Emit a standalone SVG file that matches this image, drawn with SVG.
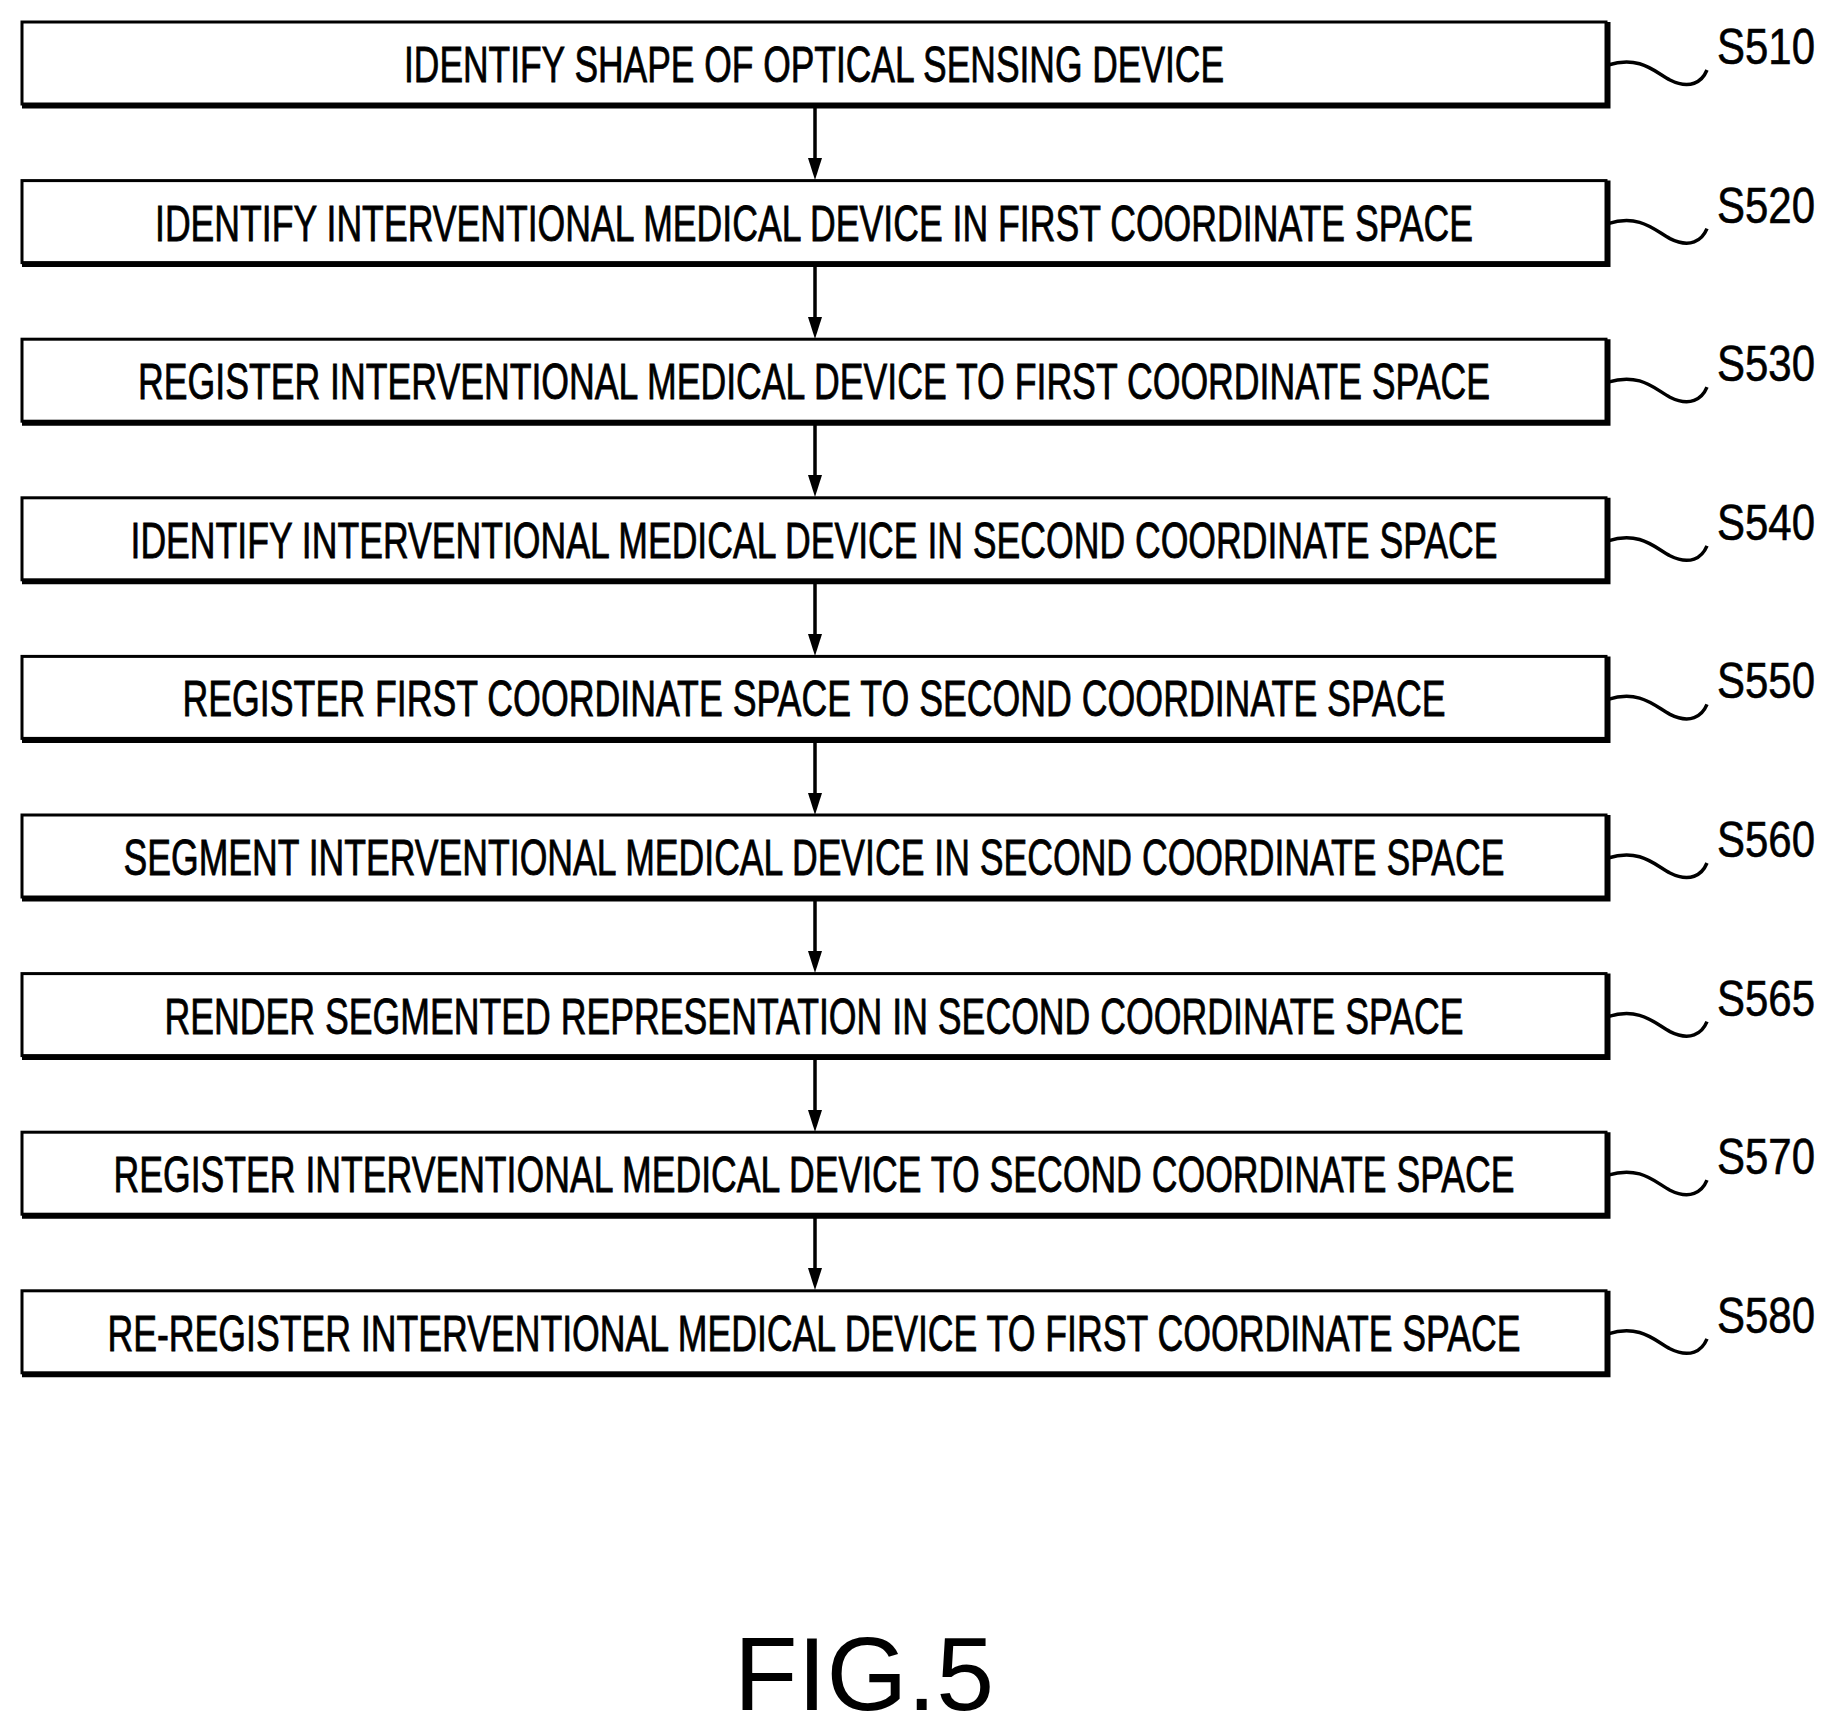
<svg xmlns="http://www.w3.org/2000/svg" width="1836" height="1730" viewBox="0 0 1836 1730">
<style>
.box{fill:#fff;stroke:#000;stroke-width:3}
.sh{stroke:#000;stroke-width:5;fill:none}
.t{font-family:"Liberation Sans",Arial,sans-serif;font-size:50px;text-anchor:middle;stroke:#000;stroke-width:0.8}
.l{font-family:"Liberation Sans",Arial,sans-serif;font-size:50px;stroke:#000;stroke-width:0.6}
.sq{fill:none;stroke:#000;stroke-width:3.5}
.c{stroke:#000;stroke-width:3.5}
</style>
<defs>
<path id="ah" d="M-7 -22 L7 -22 L0 0 Z"/>
</defs>
<g id="connectors">
<line class="c" x1="815" y1="108" x2="815" y2="165"/><use href="#ah" x="815" y="180"/>
<line class="c" x1="815" y1="266" x2="815" y2="324"/><use href="#ah" x="815" y="339"/>
<line class="c" x1="815" y1="425" x2="815" y2="482"/><use href="#ah" x="815" y="497"/>
<line class="c" x1="815" y1="584" x2="815" y2="641"/><use href="#ah" x="815" y="656"/>
<line class="c" x1="815" y1="742" x2="815" y2="799"/><use href="#ah" x="815" y="815"/>
<line class="c" x1="815" y1="901" x2="815" y2="958"/><use href="#ah" x="815" y="973"/>
<line class="c" x1="815" y1="1060" x2="815" y2="1117"/><use href="#ah" x="815" y="1132"/>
<line class="c" x1="815" y1="1218" x2="815" y2="1275"/><use href="#ah" x="815" y="1290"/>
</g>
<g id="n510" transform="translate(0,0)"><rect class="box" x="22" y="22" width="1584" height="82"/><path class="sh" d="M22 106 H1608 V22"/><text class="t" x="814" y="82" textLength="820" lengthAdjust="spacingAndGlyphs">IDENTIFY SHAPE OF OPTICAL SENSING DEVICE</text><path class="sq" d="M1608 65 C1640 55 1655 72 1670 80 C1690 90 1702 82 1707 70"/><text class="l" x="1717" y="64" textLength="98" lengthAdjust="spacingAndGlyphs">S510</text></g>
<g id="n520" transform="translate(0,158.6)"><rect class="box" x="22" y="22" width="1584" height="82"/><path class="sh" d="M22 106 H1608 V22"/><text class="t" x="814" y="82" textLength="1318" lengthAdjust="spacingAndGlyphs">IDENTIFY INTERVENTIONAL MEDICAL DEVICE IN FIRST COORDINATE SPACE</text><path class="sq" d="M1608 65 C1640 55 1655 72 1670 80 C1690 90 1702 82 1707 70"/><text class="l" x="1717" y="64" textLength="98" lengthAdjust="spacingAndGlyphs">S520</text></g>
<g id="n530" transform="translate(0,317.2)"><rect class="box" x="22" y="22" width="1584" height="82"/><path class="sh" d="M22 106 H1608 V22"/><text class="t" x="814" y="82" textLength="1352" lengthAdjust="spacingAndGlyphs">REGISTER INTERVENTIONAL MEDICAL DEVICE TO FIRST COORDINATE SPACE</text><path class="sq" d="M1608 65 C1640 55 1655 72 1670 80 C1690 90 1702 82 1707 70"/><text class="l" x="1717" y="64" textLength="98" lengthAdjust="spacingAndGlyphs">S530</text></g>
<g id="n540" transform="translate(0,475.8)"><rect class="box" x="22" y="22" width="1584" height="82"/><path class="sh" d="M22 106 H1608 V22"/><text class="t" x="814" y="82" textLength="1367" lengthAdjust="spacingAndGlyphs">IDENTIFY INTERVENTIONAL MEDICAL DEVICE IN SECOND COORDINATE SPACE</text><path class="sq" d="M1608 65 C1640 55 1655 72 1670 80 C1690 90 1702 82 1707 70"/><text class="l" x="1717" y="64" textLength="98" lengthAdjust="spacingAndGlyphs">S540</text></g>
<g id="n550" transform="translate(0,634.4)"><rect class="box" x="22" y="22" width="1584" height="82"/><path class="sh" d="M22 106 H1608 V22"/><text class="t" x="814" y="82" textLength="1263" lengthAdjust="spacingAndGlyphs">REGISTER FIRST COORDINATE SPACE TO SECOND COORDINATE SPACE</text><path class="sq" d="M1608 65 C1640 55 1655 72 1670 80 C1690 90 1702 82 1707 70"/><text class="l" x="1717" y="64" textLength="98" lengthAdjust="spacingAndGlyphs">S550</text></g>
<g id="n560" transform="translate(0,793)"><rect class="box" x="22" y="22" width="1584" height="82"/><path class="sh" d="M22 106 H1608 V22"/><text class="t" x="814" y="82" textLength="1381" lengthAdjust="spacingAndGlyphs">SEGMENT INTERVENTIONAL MEDICAL DEVICE IN SECOND COORDINATE SPACE</text><path class="sq" d="M1608 65 C1640 55 1655 72 1670 80 C1690 90 1702 82 1707 70"/><text class="l" x="1717" y="64" textLength="98" lengthAdjust="spacingAndGlyphs">S560</text></g>
<g id="n565" transform="translate(0,951.6)"><rect class="box" x="22" y="22" width="1584" height="82"/><path class="sh" d="M22 106 H1608 V22"/><text class="t" x="814" y="82" textLength="1299" lengthAdjust="spacingAndGlyphs">RENDER SEGMENTED REPRESENTATION IN SECOND COORDINATE SPACE</text><path class="sq" d="M1608 65 C1640 55 1655 72 1670 80 C1690 90 1702 82 1707 70"/><text class="l" x="1717" y="64" textLength="98" lengthAdjust="spacingAndGlyphs">S565</text></g>
<g id="n570" transform="translate(0,1110.2)"><rect class="box" x="22" y="22" width="1584" height="82"/><path class="sh" d="M22 106 H1608 V22"/><text class="t" x="814" y="82" textLength="1401" lengthAdjust="spacingAndGlyphs">REGISTER INTERVENTIONAL MEDICAL DEVICE TO SECOND COORDINATE SPACE</text><path class="sq" d="M1608 65 C1640 55 1655 72 1670 80 C1690 90 1702 82 1707 70"/><text class="l" x="1717" y="64" textLength="98" lengthAdjust="spacingAndGlyphs">S570</text></g>
<g id="n580" transform="translate(0,1268.8)"><rect class="box" x="22" y="22" width="1584" height="82"/><path class="sh" d="M22 106 H1608 V22"/><text class="t" x="814" y="82" textLength="1413" lengthAdjust="spacingAndGlyphs">RE-REGISTER INTERVENTIONAL MEDICAL DEVICE TO FIRST COORDINATE SPACE</text><path class="sq" d="M1608 65 C1640 55 1655 72 1670 80 C1690 90 1702 82 1707 70"/><text class="l" x="1717" y="64" textLength="98" lengthAdjust="spacingAndGlyphs">S580</text></g>
<text x="864" y="1710" font-family="Liberation Sans, Arial, sans-serif" font-size="104" text-anchor="middle">FIG.5</text>
</svg>
